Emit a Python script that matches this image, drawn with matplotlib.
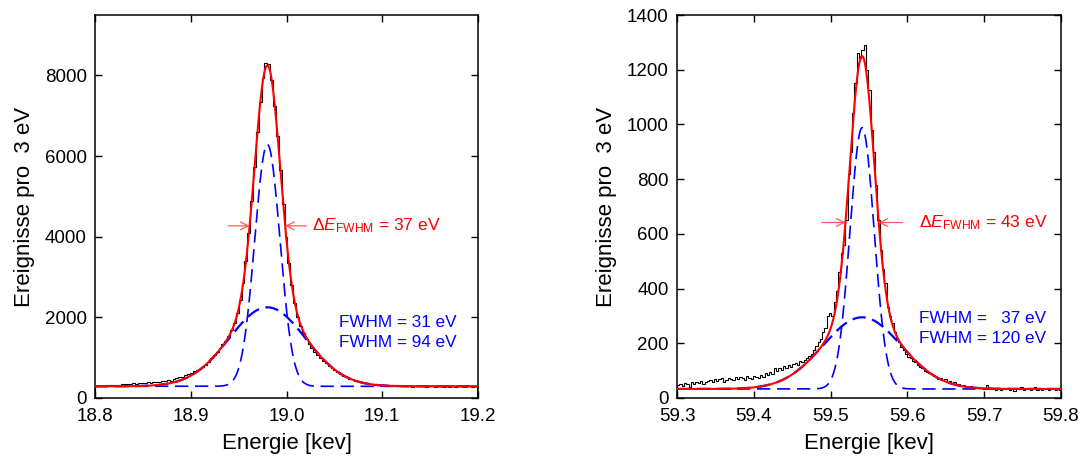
import numpy as np
import matplotlib
matplotlib.use("Agg")
import matplotlib.pyplot as plt

plt.rcParams['font.family'] = ['Liberation Sans', 'DejaVu Sans']
plt.rcParams['mathtext.fontset'] = 'custom'
plt.rcParams['mathtext.rm'] = 'Liberation Sans'
plt.rcParams['mathtext.it'] = 'Liberation Sans:italic'
plt.rcParams['mathtext.bf'] = 'Liberation Sans:bold'

# ---------------- data: left panel (18.98 keV line) ----------------
left_bin_start = 18.800   # keV
left_bin_width = 0.003    # keV
left_counts = [
    300, 295, 305, 300, 310, 320, 315, 330, 325, 340,
    335, 350, 345, 360, 355, 370, 360, 375, 385, 375,
    395, 400, 390, 415, 420, 440, 430, 470, 490, 520,
    510, 560, 590, 620, 660, 690, 730, 780, 830, 900,
    980, 1060, 1150, 1230, 1330, 1420, 1540, 1680, 1860, 2100,
    2420, 2850, 3400, 4100, 4880, 5720, 6600, 7350, 7950, 8300,
    8280, 7900, 7250, 6500, 5650, 4800, 4000, 3350, 2800, 2350,
    2020, 1780, 1600, 1460, 1350, 1250, 1150, 1070, 1000, 920,
    860, 790, 740, 690, 640, 600, 550, 520, 480, 460,
    430, 410, 390, 375, 360, 350, 335, 330, 325, 310,
    315, 305, 300, 310, 295, 305, 300, 290, 300, 295,
    285, 300, 295, 290, 300, 285, 295, 290, 280, 295,
    290, 285, 295, 280, 290, 285, 295, 290, 280, 290,
    295, 285, 290,
]
# fit: constant background + narrow Gaussian + broad Gaussian
left_fit_bg = 290
left_fit_center = 18.980          # keV
left_fit_amp = [6000, 1960]       # counts
left_fit_fwhm = [0.031, 0.094]    # keV
left_fwhm_total = 0.037           # keV
left_xlim = (18.8, 19.2)
left_ylim = (0, 9500)
left_xticks = [18.8, 18.9, 19.0, 19.1, 19.2]
left_xticklabels = ["18.8", "18.9", "19.0", "19.1", "19.2"]
left_yticks = [0, 2000, 4000, 6000, 8000]

# ---------------- data: right panel (59.54 keV line) ----------------
right_bin_start = 59.300
right_bin_width = 0.003
right_counts = [
    48, 52, 45, 55, 50, 42, 58, 52, 60, 55,
    62, 50, 58, 63, 65, 58, 70, 62, 68, 74,
    60, 66, 72, 70, 65, 75, 68, 78, 72, 66,
    80, 74, 70, 82, 76, 72, 85, 78, 90, 84,
    95, 88, 108, 98, 110, 104, 118, 108, 122, 115,
    125, 128, 120, 135, 130, 140, 145, 152, 160, 175,
    190, 205, 215, 240, 255, 300, 310, 300, 350, 390,
    460, 530, 560, 650, 820, 900, 1040, 1150, 1262, 1243,
    1272, 1290, 1200, 1126, 980, 900, 780, 650, 541, 470,
    420, 333, 300, 274, 240, 220, 205, 185, 175, 160,
    150, 145, 135, 130, 120, 112, 108, 100, 95, 90,
    88, 80, 78, 70, 72, 66, 70, 60, 62, 55,
    58, 50, 52, 45, 48, 42, 40, 45, 38, 36,
    40, 35, 38, 34, 46, 36, 32, 38, 30, 35,
    28, 36, 33, 38, 30, 34, 26, 36, 32, 40,
    30, 35, 38, 29, 34, 40, 31, 36, 28, 34,
    38, 30, 35, 32, 28, 36, 30,
]
right_fit_bg = 33
right_fit_center = 59.541
right_fit_amp = [955, 262]
right_fit_fwhm = [0.037, 0.120]
right_fwhm_total = 0.043
right_xlim = (59.3, 59.8)
right_ylim = (0, 1400)
right_xticks = [59.3, 59.4, 59.5, 59.6, 59.7, 59.8]
right_xticklabels = ["59.3", "59.4", "59.5", "59.6", "59.7", "59.8"]
right_yticks = [0, 200, 400, 600, 800, 1000, 1200, 1400]

xlabel = "Energie [kev]"
ylabel = "Ereignisse pro  3 eV"

RED = "#ff0000"
BLUE = "#0000ff"
ARROW_RED = "#ff5555"


def gauss(x, a, c, fwhm):
    s = fwhm / (2.0 * np.sqrt(2.0 * np.log(2.0)))
    return a * np.exp(-0.5 * ((x - c) / s) ** 2)


def draw_panel(ax, start, width, counts, bg, center, amps, fwhms, fwhm_tot,
               xlim, ylim, xticks, xticklabels, yticks, red_text, blue_texts,
               red_text_x, blue_x, blue_y, arrow_len):
    counts = np.asarray(counts, dtype=float)
    edges = start + width * np.arange(len(counts) + 1)
    ax.stairs(counts, edges, color="black", lw=0.8, zorder=2)

    x = np.linspace(xlim[0], xlim[1], 2000)
    g1 = gauss(x, amps[0], center, fwhms[0])
    g2 = gauss(x, amps[1], center, fwhms[1])
    ax.plot(x, bg + g1, color=BLUE, lw=1.2, ls=(0, (8, 4)), zorder=3)
    ax.plot(x, bg + g2, color=BLUE, lw=1.6, ls=(0, (6, 3)), zorder=3)
    ax.plot(x, bg + g1 + g2, color=RED, lw=1.5, zorder=4)

    # half maximum level
    peak = amps[0] + amps[1]
    yhalf = bg + peak / 2.0
    xl = center - fwhm_tot / 2.0
    xr = center + fwhm_tot / 2.0
    arrowprops = dict(arrowstyle="->", color=ARROW_RED, lw=0.9,
                      mutation_scale=14, shrinkA=0, shrinkB=0)
    ax.annotate("", xy=(xl, yhalf), xytext=(xl - arrow_len, yhalf),
                arrowprops=arrowprops, zorder=5)
    ax.annotate("", xy=(xr, yhalf), xytext=(xr + arrow_len, yhalf),
                arrowprops=arrowprops, zorder=5)
    ax.text(red_text_x, yhalf, red_text, color=RED, fontsize=12.5,
            ha="left", va="center")
    for t, yy in zip(blue_texts, blue_y):
        ax.text(blue_x, yy, t, color=BLUE, fontsize=12.3, ha="left", va="center")

    ax.set_xlim(*xlim)
    ax.set_ylim(*ylim)
    ax.set_xticks(xticks)
    ax.set_xticklabels(xticklabels)
    ax.set_yticks(yticks)
    ax.tick_params(direction="in", top=True, right=True, length=5,
                   width=1.0, labelsize=13.5)
    ax.tick_params(axis="x", pad=7.2)
    ax.tick_params(axis="y", pad=6)
    for sp in ax.spines.values():
        sp.set_linewidth(1.1)
    ax.set_xlabel(xlabel, fontsize=16, labelpad=5.5)
    ax.set_ylabel(ylabel, fontsize=16, labelpad=7)


fig = plt.figure(figsize=(10.82, 4.65), dpi=100)
ax1 = fig.add_axes([0.0878, 0.1441, 0.354, 0.8236])
ax2 = fig.add_axes([0.6257, 0.1441, 0.3549, 0.8236])

draw_panel(ax1, left_bin_start, left_bin_width, left_counts, left_fit_bg,
           left_fit_center, left_fit_amp, left_fit_fwhm, left_fwhm_total,
           left_xlim, left_ylim, left_xticks, left_xticklabels, left_yticks,
           r"$\Delta E_{\mathrm{FWHM}}$ = 37 eV",
           ["FWHM = 31 eV", "FWHM = 94 eV"],
           19.027, 19.055, [1863, 1366], 0.022)

draw_panel(ax2, right_bin_start, right_bin_width, right_counts, right_fit_bg,
           right_fit_center, right_fit_amp, right_fit_fwhm, right_fwhm_total,
           right_xlim, right_ylim, right_xticks, right_xticklabels, right_yticks,
           r"$\Delta E_{\mathrm{FWHM}}$ = 43 eV",
           ["FWHM =   37 eV", "FWHM = 120 eV"],
           59.615, 59.615, [289, 219], 0.031)

fig.savefig("out.png", dpi=100)
